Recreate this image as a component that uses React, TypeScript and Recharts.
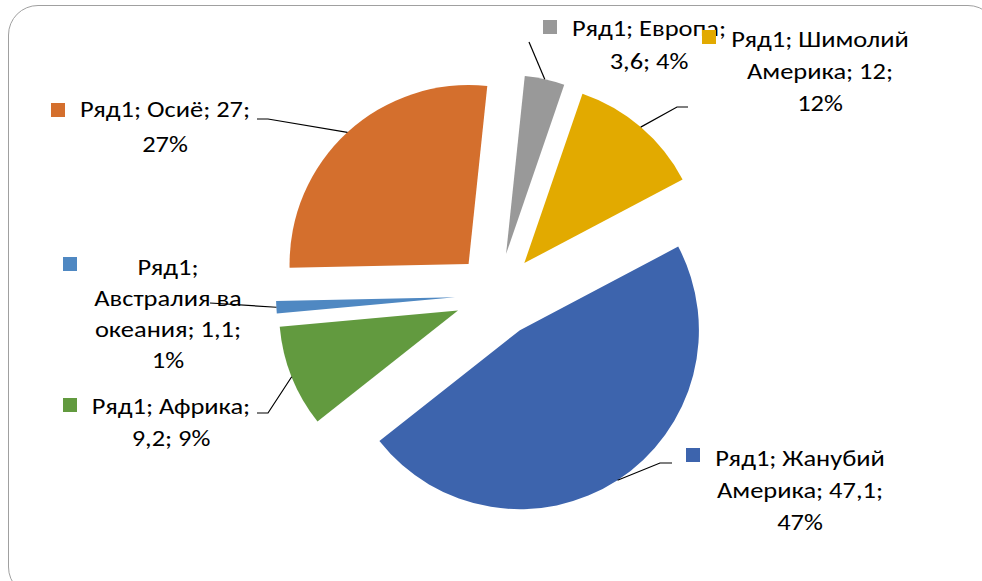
import React from 'react';
import { PieChart, Pie, Cell, Sector } from 'recharts';

// ---- data ----
const seriesName = 'Ряд1';
const categories = ['Европа', 'Шимолий Америка', 'Жанубий Америка', 'Африка', 'Австралия ва океания', 'Осиё'];
const values = [3.6, 12, 47.1, 9.2, 1.1, 27];
const colors = ['#999999', '#E2AA00', '#3D64AD', '#629A3F', '#4F88C2', '#D46F2D'];

// ---- layout / style ----
const W = 982;
const H = 581;
const CX = 497;
const CY = 295;
const R = 179;
const EXPLODE = 42;
const FIRST_SLICE_ANGLE = 6; // degrees clockwise from 12 o'clock
const FONT = "Carlito, Lato, 'Open Sans', sans-serif";
const FONT_SIZE = 23;
const TEXT_STRETCH = 1.15;

type LabelLayout = {
  tx: number; // text center x
  ty: number; // first baseline
  lh: number; // line height
  wrap: number; // wrap width in characters
  key: [number, number];
  leader: [number, number][]; // points from label end towards the slice
};

const labelLayout: LabelLayout[] = [
  { tx: 649, ty: 36, lh: 33, wrap: 14, key: [543, 20], leader: [[529, 42]] },
  { tx: 820, ty: 47, lh: 32, wrap: 14, key: [702, 30], leader: [[688, 107], [677, 107]] },
  { tx: 800, ty: 466, lh: 32, wrap: 14, key: [686, 448], leader: [[672, 463], [660, 463]] },
  { tx: 171, ty: 414, lh: 32, wrap: 14, key: [63, 398], leader: [[257, 413], [268, 413]] },
  { tx: 168, ty: 275, lh: 31, wrap: 13, key: [63, 257], leader: [[210, 303]] },
  { tx: 165, ty: 117, lh: 35, wrap: 15, key: [51, 103], leader: [[257, 119], [268, 119]] },
];

const total = values.reduce((a, b) => a + b, 0);
const data = categories.map((name, i) => ({ name, value: values[i] }));

const fmt = (v: number) => String(v).replace('.', ',');

function wrapWords(text: string, maxChars: number): string[] {
  const words = text.split(' ');
  const lines: string[] = [];
  let cur = '';
  for (const w of words) {
    const next = cur ? cur + ' ' + w : w;
    if (next.length > maxChars && cur) {
      lines.push(cur);
      cur = w;
    } else {
      cur = next;
    }
  }
  if (cur) lines.push(cur);
  return lines;
}

const RADIAN = Math.PI / 180;

function ExplodedSector(props: any) {
  const { cx, cy, midAngle, innerRadius, outerRadius, startAngle, endAngle, fill } = props;
  const dx = EXPLODE * Math.cos(-midAngle * RADIAN);
  const dy = EXPLODE * Math.sin(-midAngle * RADIAN);
  return (
    <Sector
      cx={cx + dx}
      cy={cy + dy}
      innerRadius={innerRadius}
      outerRadius={outerRadius}
      startAngle={startAngle}
      endAngle={endAngle}
      fill={fill}
      stroke="none"
    />
  );
}

function renderLabel(props: any) {
  const { cx, cy, midAngle, outerRadius, index } = props;
  const lay = labelLayout[index];
  if (!lay) return null;
  const v = values[index];
  const pct = Math.round((v / total) * 100);
  const text = `${seriesName}; ${categories[index]}; ${fmt(v)}; ${pct}%`;
  const lines = wrapWords(text, lay.wrap);
  const rr = outerRadius + EXPLODE;
  const px = cx + rr * Math.cos(-midAngle * RADIAN);
  const py = cy + rr * Math.sin(-midAngle * RADIAN);
  const pts = [...lay.leader, [px, py]].map((p) => p.join(',')).join(' ');
  return (
    <g key={`lbl-${index}`}>
      <polyline points={pts} fill="none" stroke="#000" strokeWidth={1.2} />
      <rect x={lay.key[0]} y={lay.key[1]} width={14} height={14} fill={colors[index]} />
      <text
        transform={`translate(${lay.tx},0) scale(${TEXT_STRETCH},1)`}
        x={0}
        y={lay.ty}
        textAnchor="middle"
        fontFamily={FONT}
        fontSize={FONT_SIZE}
        fill="#000"
      >
        {lines.map((ln, i) => (
          <tspan key={i} x={0} y={lay.ty + i * lay.lh}>
            {ln}
          </tspan>
        ))}
      </text>
    </g>
  );
}

export default function App() {
  return (
    <div style={{ position: 'absolute', left: 0, top: 0, width: W, height: H, overflow: 'hidden', background: '#fff' }}>
      <div
        style={{
          position: 'absolute',
          left: 8,
          top: 5,
          width: 990,
          height: 592,
          border: '1.5px solid #a0a0a0',
          borderRadius: 30,
          boxSizing: 'border-box',
        }}
      />
      <div style={{ position: 'absolute', left: 0, top: 0 }}>
        <PieChart width={W} height={H} margin={{ top: 0, right: 0, bottom: 0, left: 0 }}>
          <Pie
            data={data}
            dataKey="value"
            nameKey="name"
            cx={CX}
            cy={CY}
            innerRadius={0}
            outerRadius={R}
            startAngle={90 - FIRST_SLICE_ANGLE}
            endAngle={90 - FIRST_SLICE_ANGLE - 360}
            stroke="none"
            isAnimationActive={false}
            labelLine={false}
            label={renderLabel}
            shape={ExplodedSector}
            activeShape={ExplodedSector}
            inactiveShape={ExplodedSector}
          >
            {data.map((d, i) => (
              <Cell key={d.name} fill={colors[i]} />
            ))}
          </Pie>
        </PieChart>
      </div>
    </div>
  );
}
